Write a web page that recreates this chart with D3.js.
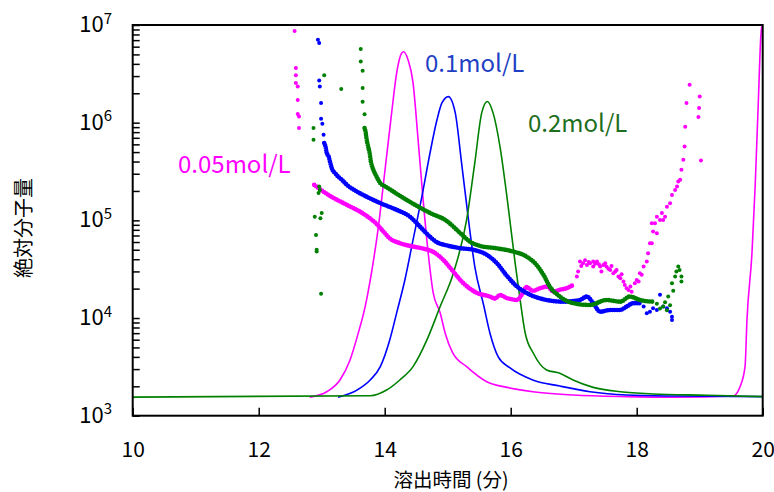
<!DOCTYPE html>
<html>
<head>
  <meta charset="utf-8">
  <title>絶対分子量</title>
  <script src="https://d3js.org/d3.v7.min.js"></script>
  <style>
    body { margin: 0; background: #fff; }
    text { font-family: "Noto Sans CJK JP", "Noto Sans", sans-serif; }
  </style>
</head>
<body>
  <svg id="chart"></svg>
  <script>
    // 濃度 (溶出時間[分], 表示値)
    const conc005 = [[12.81,1550],[13.08,1760],[13.29,2320],[13.45,3720],[13.58,7000],[13.69,13100],[13.79,29000],[13.90,86000],[14.00,307000],[14.11,1.26e6],[14.19,3.24e6],[14.27,5.16e6],[14.30,5.32e6],[14.37,4.41e6],[14.45,2.56e6],[14.53,6.7e5],[14.61,1.62e5],[14.69,46500],[14.77,18100],[14.88,11300],[14.96,7000],[15.08,4390],[15.30,3180],[15.62,2230],[15.94,1950],[16.35,1760],[16.99,1630],[17.84,1566],[18.58,1545],[19.53,1590],[19.64,1980],[19.72,3200],[19.75,9500],[19.83,46500],[19.88,222000],[19.93,1.6e6],[19.97,7.6e6],[20.0,1.1e7]];
    const conc01 = [[13.26,1550],[13.56,1830],[13.77,2320],[13.93,3180],[14.08,5970],[14.19,11300],[14.32,24500],[14.45,63100],[14.59,175000],[14.72,492000],[14.83,1.07e6],[14.91,1.6e6],[15.01,1.85e6],[15.12,1.26e6],[15.22,388000],[15.33,101000],[15.43,33600],[15.57,13600],[15.67,7030],[15.80,4030],[15.99,3080],[16.35,2320],[16.78,2010],[17.26,1760],[17.84,1630],[18.58,1590],[20.0,1566]];
    const conc02 = [[10.0,1550],[13.77,1600],[14.03,1830],[14.24,2320],[14.45,3180],[14.67,5970],[14.88,13100],[15.09,28800],[15.30,101000],[15.43,388000],[15.54,1.26e6],[15.63,1.65e6],[15.72,1.26e6],[15.83,570000],[15.94,175000],[16.07,36700],[16.15,15300],[16.23,7030],[16.36,4360],[16.57,2940],[16.78,2720],[16.99,2320],[17.31,1950],[17.74,1760],[18.26,1670],[19.11,1620],[20.0,1566]];

    // 絶対分子量 連続部分
    const mw005Track = [[12.88,2.31e5],[13.13,1.78e5],[13.40,1.44e5],[13.66,1.17e5],[13.87,9.2e4],[13.98,7.67e4],[14.08,6.54e4],[14.24,5.84e4],[14.45,5.39e4],[14.61,5.14e4],[14.77,4.75e4],[14.93,3.94e4],[15.04,3.26e4],[15.25,2.27e4],[15.46,1.81e4],[15.67,1.66e4],[15.75,1.58e4],[15.83,1.72e4],[15.94,1.60e4],[15.99,1.57e4],[16.10,1.53e4],[16.18,1.75e4],[16.25,2.08e4],[16.35,1.9e4],[16.47,2.02e4],[16.58,2.1e4],[16.68,1.86e4],[16.78,1.95e4],[16.89,2.02e4],[16.99,2.18e4]];
    const mw01Track = [[13.04,6.18e5],[13.06,5.7e5],[13.08,4.88e5],[13.11,4.51e5],[13.13,4.0e5],[13.17,3.29e5],[13.21,3.05e5],[13.26,2.81e5],[13.32,2.6e5],[13.40,2.31e5],[13.56,1.97e5],[13.71,1.75e5],[13.93,1.5e5],[14.19,1.28e5],[14.40,1.09e5],[14.56,8.63e4],[14.67,7.28e4],[14.83,5.96e4],[14.98,5.55e4],[15.20,5.19e4],[15.41,4.99e4],[15.62,4.44e4],[15.78,3.64e4],[15.94,2.7e4],[16.10,2.1e4],[16.31,1.73e4],[16.57,1.53e4],[16.84,1.47e4],[17.10,1.53e4],[17.21,1.66e4],[17.31,1.42e4],[17.42,1.16e4],[17.58,1.21e4],[17.74,1.21e4],[17.84,1.31e4],[17.95,1.42e4],[18.05,1.42e4]];
    const mw02Track = [[13.68,8.8e5],[13.70,7.8e5],[13.71,6.95e5],[13.73,5.94e5],[13.76,4.89e5],[13.78,4.0e5],[13.82,3.29e5],[13.87,2.81e5],[13.93,2.4e5],[14.01,2.22e5],[14.08,2.08e5],[14.19,1.87e5],[14.45,1.48e5],[14.72,1.19e5],[14.98,9.9e4],[15.20,7.4e4],[15.35,6.07e4],[15.51,5.48e4],[15.78,5.17e4],[16.04,4.79e4],[16.25,4.26e4],[16.41,3.5e4],[16.52,2.77e4],[16.62,2.1e4],[16.78,1.66e4],[16.99,1.42e4],[17.26,1.36e4],[17.52,1.53e4],[17.74,1.47e4],[17.89,1.66e4],[18.05,1.53e4],[18.26,1.47e4]];

    // 絶対分子量 散点部分
    const mw005Dots = [[12.57,8.7e6],[12.59,3.62e6],[12.59,3.05e6],[12.59,2.55e6],[12.62,2.35e6],[12.62,1.71e6],[12.62,1.23e6],[12.64,1.16e6],[12.64,8.8e5],
      [17.05,2.66e4],[17.07,2.99e4],[17.10,3.79e4],[17.12,3.4e4],[17.15,3.64e4],[17.18,3.9e4],[17.21,3.5e4],[17.24,3.75e4],[17.26,3.64e4],[17.31,3.37e4],[17.31,3.78e4],[17.34,3.6e4],[17.37,3.79e4],[17.40,3.55e4],[17.42,3.37e4],[17.44,2.99e4],[17.47,3.5e4],[17.50,3.64e4],[17.52,3.37e4],[17.55,3.2e4],[17.58,3.11e4],[17.60,3.4e4],[17.63,2.88e4],[17.66,2.99e4],[17.68,3.1e4],[17.71,2.66e4],[17.74,2.56e4],[17.76,2.8e4],[17.79,2.36e4],[17.81,2.18e4],[17.84,2.02e4],[17.87,1.94e4],[17.90,2.1e4],[17.92,1.86e4],[17.97,2.27e4],[18.0,2.45e4],[18.03,2.36e4],[18.05,2.88e4],
      [18.08,2.77e4],[18.11,3.37e4],[18.16,3.79e4],[18.18,4.61e4],[18.21,5.84e4],[18.24,5.84e4],[18.26,7.67e4],[18.32,7.39e4],[18.24,9.35e4],[18.29,9.35e4],[18.32,1.09e5],[18.37,1.01e5],[18.42,1.01e5],[18.40,1.19e5],[18.45,1.09e5],[18.48,1.38e5],[18.53,1.5e5],[18.56,1.82e5],[18.61,2.05e5],[18.64,2.22e5],[18.66,2.5e5],[18.69,2.6e5],[18.71,3.29e5],[18.74,4.17e5],[18.76,5.7e5],[18.77,9.1e5],[18.79,1.59e6],[18.84,2.44e6],[19.0,1.85e6],[18.99,1.41e6],[18.98,1.14e6],[19.02,4.1e5]];
    const mw01Dots = [[12.94,7.06e6],[12.96,6.55e6],[12.96,2.7e6],[12.97,2.35e6],[12.99,1.59e6],[12.99,1.1e6],[13.01,9.76e5],[13.03,7.52e5],
      [18.11,1.31e4],[18.16,1.12e4],[18.21,1.16e4],[18.26,1.26e4],[18.32,1.21e4],[18.37,1.73e4],[18.42,1.31e4],[18.48,1.26e4],[18.53,1.16e4],[18.56,1.03e4],[18.56,9.57e3]];
    const mw02Dots = [[13.04,3.05e6],[13.31,2.21e6],[12.87,8.8e5],[12.87,6.7e5],[12.96,2.22e5],[12.95,1.9e5],[12.97,2.05e5],[13.0,1.19e5],[12.98,1.05e5],[12.89,1.09e5],[12.91,7.1e4],[12.92,5.0e4],[12.92,4.8e4],[12.99,1.77e4],
      [13.62,5.68e6],[13.62,4.24e6],[13.65,3.4e6],[13.65,2.26e6],[13.65,1.64e6],[13.68,1.22e6],
      [18.32,1.4e4],[18.37,1.25e4],[18.42,1.31e4],[18.45,1.45e4],[18.48,1.2e4],[18.50,1.66e4],[18.53,1.35e4],[18.56,2.27e4],[18.58,1.9e4],[18.61,2.66e4],[18.63,3.0e4],[18.66,3.36e4],[18.68,3.1e4],[18.71,2.66e4],[18.71,2.36e4]];

    const seriesNames = ["0.05mol/L", "0.1mol/L", "0.2mol/L"];
    const seriesColors = ["#ff00ff", "#0000ff", "#008000"];
    const xTicks = [10, 12, 14, 16, 18, 20];
    const yDecades = [3, 4, 5, 6, 7];

    const width = 774, height = 492;
    const margin = { top: 25, right: 11.3, bottom: 76.3, left: 132.7 };

    const svg = d3.select("#chart")
      .attr("width", width)
      .attr("height", height);

    const x = d3.scaleLinear().domain([10, 20]).range([margin.left, width - margin.right]);
    const y = d3.scaleLog().domain([1e3, 1e7]).range([height - margin.bottom, margin.top]);

    svg.append("clipPath").attr("id", "plot")
      .append("rect")
      .attr("x", margin.left).attr("y", margin.top)
      .attr("width", width - margin.left - margin.right)
      .attr("height", height - margin.top - margin.bottom);

    const line = d3.line().x(d => x(d[0])).y(d => y(d[1])).curve(d3.curveMonotoneX);
    const g = svg.append("g").attr("clip-path", "url(#plot)");

    // 濃度曲線
    [conc005, conc01, conc02].forEach((data, i) => {
      g.append("path")
        .datum(data)
        .attr("d", line)
        .attr("fill", "none")
        .attr("stroke", seriesColors[i])
        .attr("stroke-width", 1.6);
    });

    // 分子量の点
    const tracks = [mw005Track, mw01Track, mw02Track];
    const dots = [mw005Dots, mw01Dots, mw02Dots];
    tracks.forEach((data, i) => {
      g.append("path")
        .datum(data)
        .attr("d", line)
        .attr("fill", "none")
        .attr("stroke", seriesColors[i])
        .attr("stroke-width", 4.6)
        .attr("stroke-linecap", "round")
        .attr("stroke-dasharray", "0 2.4");
      g.selectAll(null)
        .data(dots[i])
        .enter()
        .append("circle")
        .attr("cx", d => x(d[0]))
        .attr("cy", d => y(d[1]))
        .attr("r", 2)
        .attr("fill", seriesColors[i]);
    });

    // 軸
    svg.append("g")
      .attr("transform", `translate(${margin.left},0)`)
      .call(d3.axisLeft(y).tickValues(y.ticks()).tickSize(-7).tickFormat(""))
      .call(a => a.select(".domain").remove())
      .selectAll("line").attr("stroke", "#000").attr("stroke-width", 1.5);

    const xAxis = svg.append("g")
      .attr("transform", `translate(0,${height - margin.bottom})`)
      .call(d3.axisBottom(x).tickValues(xTicks).tickSize(-8).tickPadding(26).tickFormat(d3.format("d")));
    xAxis.select(".domain").remove();
    xAxis.selectAll("line").attr("stroke", "#000").attr("stroke-width", 1.5);
    xAxis.selectAll("text").attr("font-size", 21).attr("fill", "#000")
      .style("font-family", "'Noto Sans CJK JP', sans-serif");

    svg.append("rect")
      .attr("x", margin.left).attr("y", margin.top)
      .attr("width", width - margin.left - margin.right)
      .attr("height", height - margin.top - margin.bottom)
      .attr("fill", "none")
      .attr("stroke", "#000")
      .attr("stroke-width", 2);

    // 縦軸ラベル 10^n
    const yLab = svg.selectAll(".ylab")
      .data(yDecades)
      .enter()
      .append("text")
      .attr("class", "ylab")
      .attr("x", 112)
      .attr("y", d => y(Math.pow(10, d)) + 7)
      .attr("text-anchor", "end")
      .attr("font-size", 22);
    yLab.append("tspan").text("10");
    yLab.append("tspan").attr("dy", -8.5).attr("font-size", 15).text(d => d);

    // 軸タイトル
    svg.append("text")
      .attr("transform", "translate(22,228) rotate(-90)")
      .attr("text-anchor", "middle")
      .attr("dominant-baseline", "central")
      .attr("font-size", 20)
      .text("絶対分子量");

    svg.append("text")
      .attr("x", 451)
      .attr("y", 487)
      .attr("text-anchor", "middle")
      .attr("font-size", 19.5)
      .text("溶出時間 (分)");

    // 系列ラベル
    const labelPos = [[178, 173], [425, 72], [528, 132]];
    const labelColors = ["#ff00ff", "#1f3fc4", "#1d6e1d"];
    seriesNames.forEach((name, i) => {
      svg.append("text")
        .attr("x", labelPos[i][0])
        .attr("y", labelPos[i][1])
        .attr("font-size", 24)
        .attr("fill", labelColors[i])
        .text(name);
    });
  </script>
</body>
</html>
